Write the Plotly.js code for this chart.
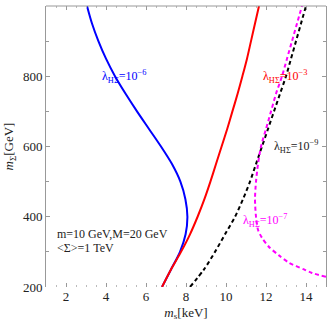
<!DOCTYPE html>
<html>
<head>
<meta charset="utf-8">
<script src="https://cdn.plot.ly/plotly-3.0.1.min.js"></script>
<style>
  html, body { margin: 0; padding: 0; background: #fff; }
  #plot { width: 327px; height: 323px; }
</style>
</head>
<body>
<div id="plot"></div>
<script>
// m_Sigma values (GeV) along each curve, and m_s (keV)
var m_sigma = [200, 250, 300, 350, 400, 450, 500, 550, 600, 650, 700, 750, 800, 850, 900, 950, 1000];

var ms_1e6 = [6.8, 7.25, 7.7, 7.98, 8.07, 7.97, 7.72, 7.3, 6.75, 6.15, 5.55, 4.98, 4.45, 4.0, 3.62, 3.3, 3.05];
var ms_1e3 = [6.8, 7.25, 7.75, 8.2, 8.58, 8.92, 9.22, 9.5, 9.78, 10.06, 10.32, 10.58, 10.82, 11.05, 11.25, 11.45, 11.65];
var ms_1e9 = [8.2, 8.9, 9.45, 9.95, 10.45, 10.85, 11.2, 11.5, 11.8, 12.1, 12.4, 12.7, 13.0, 13.25, 13.5, 13.75, 14.0];

var m_sigma_1e7 = [229, 240, 250, 269, 290, 314, 340, 363, 400, 450, 500, 550, 600, 650, 700, 750, 800, 850, 900, 950, 1000];
var ms_1e7 = [15.0, 14.3, 13.9, 13.15, 12.65, 12.15, 11.8, 11.6, 11.5, 11.45, 11.5, 11.6, 11.75, 12.0, 12.25, 12.5, 12.8, 13.05, 13.3, 13.55, 13.8];

var xticks = [2, 4, 6, 8, 10, 12, 14];
var yticks = [200, 400, 600, 800, 1000];

var serif = 'Times New Roman, Liberation Serif, serif';

var traces = [
  {x: ms_1e6, y: m_sigma, mode: 'lines', line: {color: '#0000ff', width: 2, shape: 'spline', smoothing: 0.8}},
  {x: ms_1e3, y: m_sigma, mode: 'lines', line: {color: '#ff0000', width: 2, shape: 'spline', smoothing: 0.8}},
  {x: ms_1e9, y: m_sigma, mode: 'lines', line: {color: '#000000', width: 2, dash: '4px,3px', shape: 'spline', smoothing: 0.8}},
  {x: ms_1e7, y: m_sigma_1e7, mode: 'lines', line: {color: '#ff00ff', width: 2, dash: '4px,3px', shape: 'spline', smoothing: 0.8}}
];

function lab(x, y, txt, col, anchor) {
  return {x: x, y: y, xref: 'x', yref: 'y', text: txt, showarrow: false,
          xanchor: anchor || 'center', font: {family: serif, size: 12, color: col}};
}

var lam = '\u03bb<sub>H\u03a3</sub>=10<sup>\u2212';

var layout = {
  width: 327,
  height: 323,
  margin: {l: 46, r: 1, t: 6, b: 36},
  showlegend: false,
  paper_bgcolor: '#fff',
  plot_bgcolor: '#fff',
  font: {family: serif, size: 13, color: '#222'},
  xaxis: {
    range: [1, 15],
    tickvals: xticks,
    ticks: 'inside', ticklen: 4, tickcolor: '#999',
    tickfont: {family: serif, size: 13, color: '#222'},
    minor: {dtick: 0.5, ticks: 'inside', ticklen: 2, tickcolor: '#bbb'},
    mirror: 'ticks',
    showgrid: false, zeroline: false, showline: false,
    title: {text: '<i>m</i><sub>s</sub>[keV]', font: {family: serif, size: 13, color: '#222'}, standoff: 4}
  },
  yaxis: {
    range: [200, 1000],
    tickvals: yticks,
    ticks: 'inside', ticklen: 4, tickcolor: '#999',
    tickfont: {family: serif, size: 13, color: '#222'},
    minor: {dtick: 100, ticks: 'inside', ticklen: 3, tickcolor: '#999'},
    mirror: 'ticks',
    showgrid: false, zeroline: false, showline: true, linecolor: '#999', linewidth: 1,
    title: {text: '<i>m</i><sub>\u03a3</sub>[GeV]', font: {family: serif, size: 13, color: '#222'}, standoff: 6}
  },
  shapes: [
    {type: 'line', xref: 'paper', yref: 'paper', x0: 0, x1: 1, y0: 1, y1: 1, line: {color: '#999', width: 1}}
  ],
  annotations: [
    lab(4.9, 800, lam + '6</sup>', '#0000ff'),
    lab(12.95, 800, lam + '3</sup>', '#ff0000'),
    lab(13.5, 600, lam + '9</sup>', '#222'),
    lab(11.95, 390, lam + '7</sup>', '#ff00ff'),
    lab(1.45, 350, 'm=10 GeV,M=20 GeV', '#222', 'left'),
    lab(1.45, 310, '&lt;\u03a3&gt;=1 TeV', '#222', 'left')
  ]
};

Plotly.newPlot('plot', traces, layout, {staticPlot: true});
</script>
</body>
</html>
